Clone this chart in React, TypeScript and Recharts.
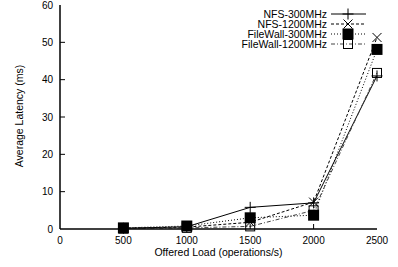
import React from "react";
import { LineChart, Line, XAxis, YAxis, Customized } from "recharts";

const loads = [500, 1000, 1500, 2000, 2500];
const nfs300 = [0.2, 0.6, 5.8, 7.0, 41.0];
const nfs1200 = [0.2, 0.5, 1.8, 7.2, 51.3];
const fw300 = [0.3, 0.8, 3.0, 3.7, 48.1];
const fw1200 = [0.1, 0.3, 0.7, 5.0, 41.8];
const xTicks = [0, 500, 1000, 1500, 2000, 2500];
const yTicks = [0, 10, 20, 30, 40, 50, 60];
const seriesNames = ["NFS-300MHz", "NFS-1200MHz", "FileWall-300MHz", "FileWall-1200MHz"];

const data = loads.map((x, i) => ({
  x,
  nfs300: nfs300[i],
  nfs1200: nfs1200[i],
  fw300: fw300[i],
  fw1200: fw1200[i],
}));

const FONT = "'Liberation Sans', Arial, sans-serif";
const FS = 10;
const LFS = 10.5;

type Shape = "plus" | "cross" | "fsquare" | "osquare";

function marker(shape: Shape, cx: number, cy: number, key?: any) {
  if (shape === "plus")
    return (
      <g key={key}>
        <line x1={cx - 5.5} y1={cy} x2={cx + 5.5} y2={cy} stroke="#000" strokeWidth={1} />
        <line x1={cx} y1={cy - 5.5} x2={cx} y2={cy + 5.5} stroke="#000" strokeWidth={1} />
      </g>
    );
  if (shape === "cross")
    return (
      <g key={key}>
        <line x1={cx - 4.5} y1={cy - 4.5} x2={cx + 4.5} y2={cy + 4.5} stroke="#000" strokeWidth={1} />
        <line x1={cx - 4.5} y1={cy + 4.5} x2={cx + 4.5} y2={cy - 4.5} stroke="#000" strokeWidth={1} />
      </g>
    );
  if (shape === "fsquare")
    return <rect key={key} x={cx - 5.5} y={cy - 5.5} width={11} height={11} fill="#000" />;
  return <rect key={key} x={cx - 4.5} y={cy - 4.5} width={9} height={9} fill="none" stroke="#000" strokeWidth={1} />;
}

const dotFn = (shape: Shape) => (props: any) => marker(shape, props.cx, props.cy, props.key ?? `${shape}-${props.index}`);

const series: { key: string; shape: Shape; dash?: string; color: string }[] = [
  { key: "nfs300", shape: "plus", color: "#000" },
  { key: "nfs1200", shape: "cross", dash: "3 2", color: "#000" },
  { key: "fw300", shape: "fsquare", dash: "1 2", color: "#000" },
  { key: "fw1200", shape: "osquare", dash: "4 2 1 2", color: "#444" },
];

const BottomTick = (props: any) => {
  const { x, y, payload } = props;
  const inner = payload.value !== 0 && payload.value !== 2500;
  return (
    <g>
      {inner && <line x1={x} y1={y} x2={x} y2={y - 5} stroke="#000" strokeWidth={1} />}
      <text x={x} y={y + 15} textAnchor="middle" fontFamily={FONT} fontSize={FS} fill="#000">
        {payload.value}
      </text>
    </g>
  );
};

const LeftTick = (props: any) => {
  const { x, y, payload } = props;
  const inner = payload.value !== 0 && payload.value !== 60;
  return (
    <g>
      {inner && <line x1={x} y1={y} x2={x + 5} y2={y} stroke="#000" strokeWidth={1} />}
      <text x={x - 7} y={y + 3.5} textAnchor="end" fontFamily={FONT} fontSize={FS} fill="#000">
        {payload.value}
      </text>
    </g>
  );
};

const TopTick = (props: any) => {
  const { x, y, payload } = props;
  const inner = payload.value !== 0 && payload.value !== 2500;
  return inner ? <line x1={x} y1={y} x2={x} y2={y + 5} stroke="#000" strokeWidth={1} /> : <g />;
};

const RightTick = (props: any) => {
  const { x, y, payload } = props;
  const inner = payload.value !== 0 && payload.value !== 60;
  return inner ? <line x1={x} y1={y} x2={x - 5} y2={y} stroke="#000" strokeWidth={1} /> : <g />;
};

const LegendBox = () => {
  const rows = [14, 24, 34, 44];
  return (
    <g>
      {series.map((s, i) => (
        <g key={s.key}>
          <text x={327} y={rows[i] + 3.5} textAnchor="end" fontFamily={FONT} fontSize={LFS} fill="#000">
            {seriesNames[i]}
          </text>
          <line x1={331} y1={rows[i]} x2={366} y2={rows[i]} stroke={s.color} strokeWidth={1} strokeDasharray={s.dash} />
          {marker(s.shape, 348, rows[i])}
        </g>
      ))}
    </g>
  );
};

export default function App() {
  return (
    <div style={{ position: "absolute", left: 0, top: 0, width: 398, height: 267, background: "#fff" }}>
      <LineChart width={398} height={267} data={data} margin={{ top: 5, right: 21, left: 0, bottom: 0 }}>
        <XAxis
          dataKey="x"
          type="number"
          domain={[0, 2500]}
          ticks={xTicks}
          tickSize={0}
          tickMargin={0}
          height={38}
          axisLine={{ stroke: "#000", strokeWidth: 1.5 }}
          tick={<BottomTick />}
          interval={0}
          label={{
            content: (p: any) => (
              <text x={218.5} y={256} textAnchor="middle" fontFamily={FONT} fontSize={LFS} fill="#000">
                Offered Load (operations/s)
              </text>
            ),
          }}
        />
        <XAxis
          xAxisId="top"
          orientation="top"
          type="number"
          domain={[0, 2500]}
          ticks={xTicks}
          tickSize={0}
          tickMargin={0}
          height={0}
          allowDataOverflow
          axisLine={{ stroke: "#000", strokeWidth: 1.5 }}
          tick={<TopTick />}
          interval={0}
        />
        <YAxis
          type="number"
          domain={[0, 60]}
          ticks={yTicks}
          tickSize={0}
          tickMargin={0}
          width={60}
          axisLine={{ stroke: "#000", strokeWidth: 1.5 }}
          tick={<LeftTick />}
          interval={0}
          label={{
            content: (p: any) => (
              <text
                x={0}
                y={0}
                transform="translate(23 116) rotate(-90)"
                textAnchor="middle"
                fontFamily={FONT}
                fontSize={LFS}
                fill="#000"
              >
                Average Latency (ms)
              </text>
            ),
          }}
        />
        <YAxis
          yAxisId="right"
          orientation="right"
          type="number"
          domain={[0, 60]}
          ticks={yTicks}
          tickSize={0}
          tickMargin={0}
          width={0}
          allowDataOverflow
          axisLine={{ stroke: "#000", strokeWidth: 1.5 }}
          tick={<RightTick />}
          interval={0}
        />
        {series.map((s) => (
          <Line
            key={s.key}
            dataKey={s.key}
            type="linear"
            stroke={s.color}
            strokeWidth={1}
            strokeDasharray={s.dash}
            dot={dotFn(s.shape)}
            activeDot={false}
            isAnimationActive={false}
          />
        ))}
        <Customized component={<LegendBox />} />
      </LineChart>
    </div>
  );
}
